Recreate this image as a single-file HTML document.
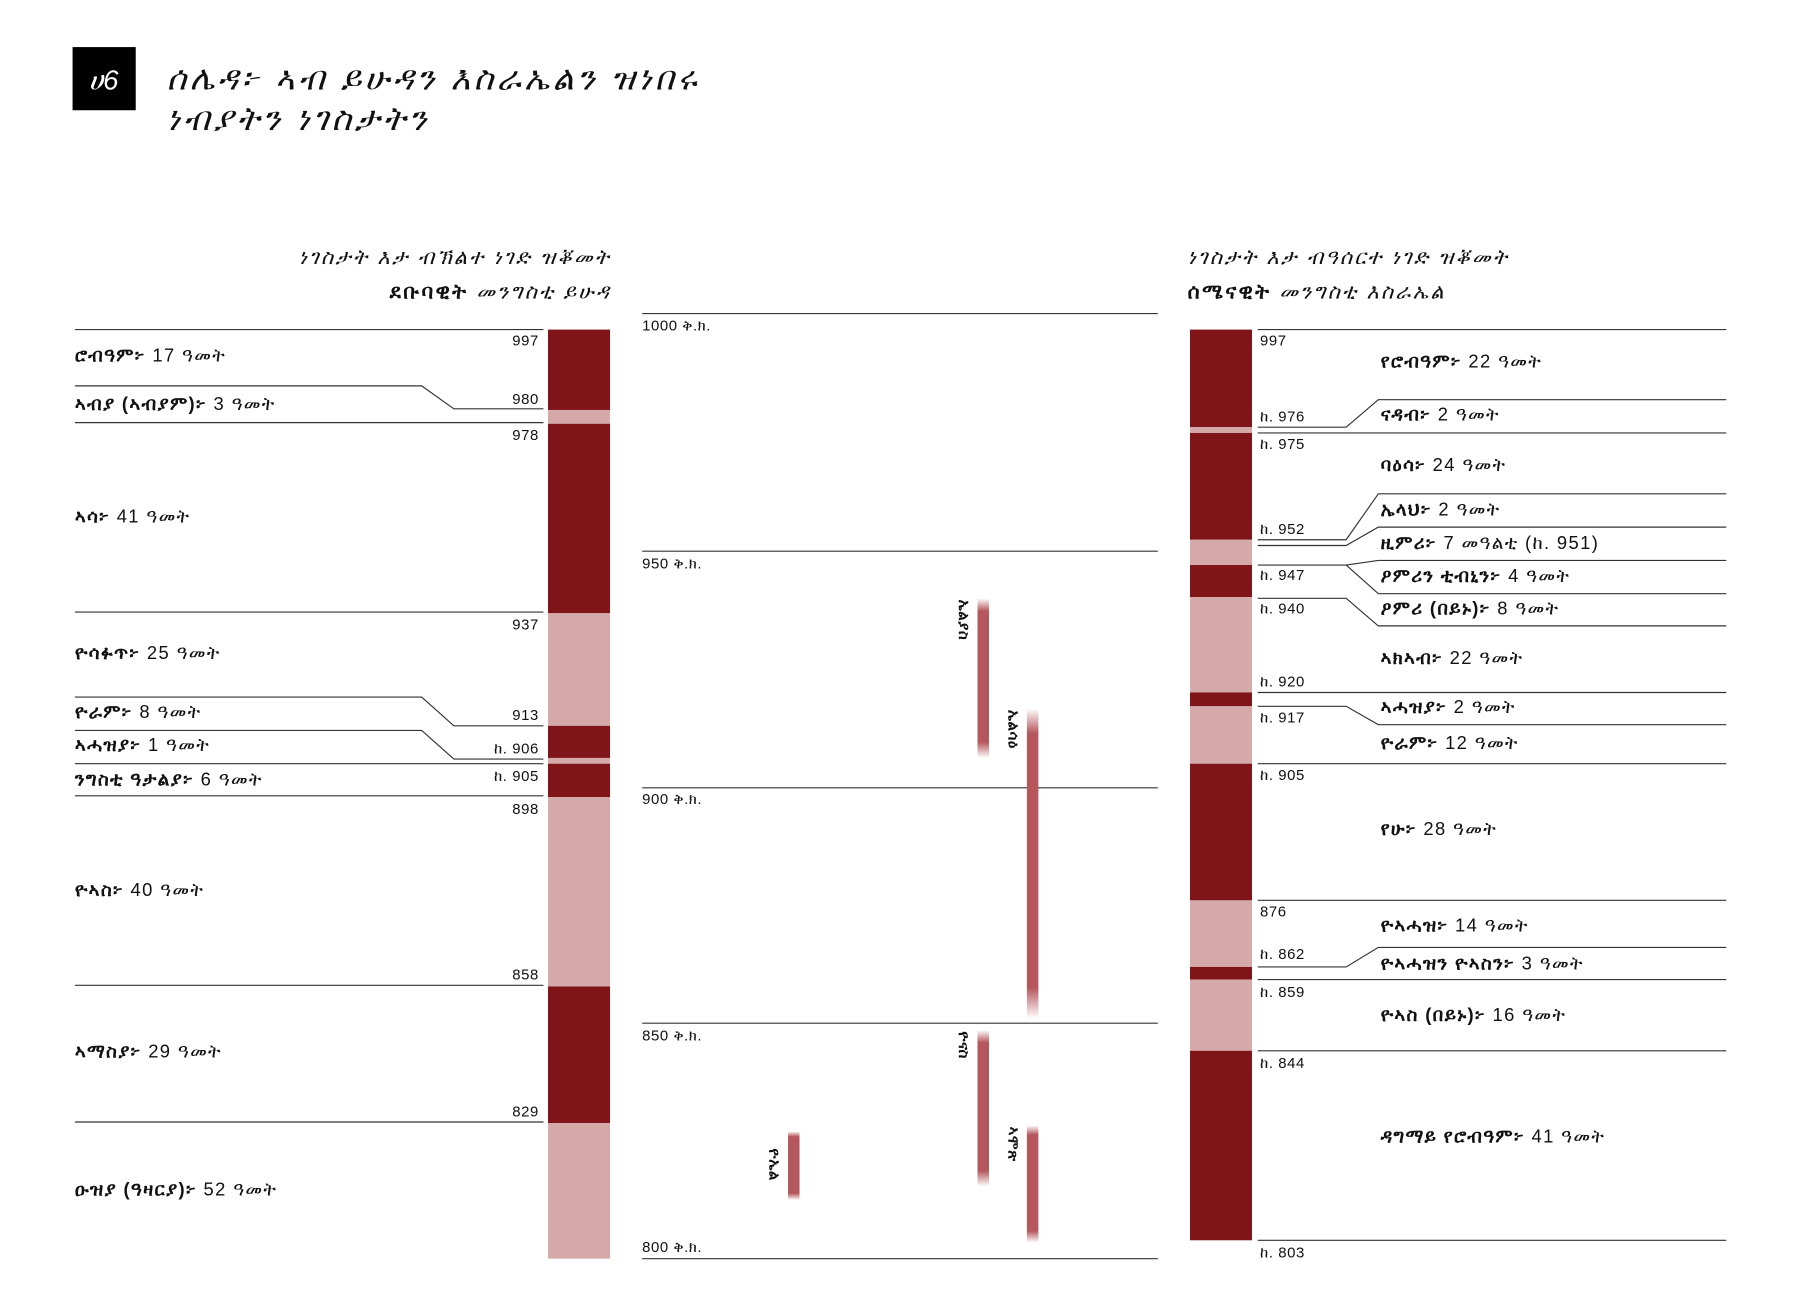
<!DOCTYPE html>
<html><head><meta charset="utf-8"><style>
html,body{margin:0;padding:0;background:#fff;width:1800px;height:1300px;overflow:hidden}
svg{display:block}
text{font-family:"Liberation Sans","DejaVu Sans",sans-serif;fill:#111}
.l{font-size:16px;letter-spacing:1.2px}.y{font-size:13px;letter-spacing:0.5px}.h{font-size:18px;letter-spacing:2px}.c{font-size:13px;letter-spacing:0.5px}
</style></head><body>
<svg width="1800" height="1300" viewBox="0 0 1567 1132" xmlns="http://www.w3.org/2000/svg">
<defs>
<linearGradient id="g" x1="0" y1="0" x2="0" y2="1">
<stop offset="0" stop-color="#b5575c" stop-opacity="0"/>
<stop offset="0.08" stop-color="#b5575c"/>
<stop offset="0.9" stop-color="#b5575c"/>
<stop offset="1" stop-color="#b5575c" stop-opacity="0"/>
</linearGradient>
</defs>
<rect x="63" y="41" width="55" height="55" fill="#000"/>
<text x="90" y="78" text-anchor="middle" style="font-size:24px;fill:#fff;font-style:italic">ሀ6</text>
<text x="145" y="78" style="font-size:29px;font-style:italic;letter-spacing:3px">ሰሌዳ፦ ኣብ ይሁዳን እስራኤልን ዝነበሩ</text>
<text x="145" y="113" style="font-size:29px;font-style:italic;letter-spacing:3px">ነብያትን ነገስታትን</text>

<text x="532" y="230" text-anchor="end" class="h" font-style="italic">ነገስታት እታ ብኽልተ ነገድ ዝቖመት</text>
<text x="532" y="260" text-anchor="end" class="h"><tspan font-weight="bold">ደቡባዊት</tspan> <tspan font-style="italic">መንግስቲ ይሁዳ</tspan></text>
<text x="1034" y="230" class="h" font-style="italic">ነገስታት እታ ብዓሰርተ ነገድ ዝቖመት</text>
<text x="1034" y="260" class="h"><tspan font-weight="bold">ሰሜናዊት</tspan> <tspan font-style="italic">መንግስቲ እስራኤል</tspan></text>

<g>
<rect x="477" y="287" width="54" height="70" fill="#7f1518"/>
<rect x="477" y="357" width="54" height="12" fill="#d4a9a8"/>
<rect x="477" y="369" width="54" height="165" fill="#7f1518"/>
<rect x="477" y="534" width="54" height="98" fill="#d4a9a8"/>
<rect x="477" y="632" width="54" height="28" fill="#7f1518"/>
<rect x="477" y="660" width="54" height="5" fill="#d4a9a8"/>
<rect x="477" y="665" width="54" height="29" fill="#7f1518"/>
<rect x="477" y="694" width="54" height="165" fill="#d4a9a8"/>
<rect x="477" y="859" width="54" height="119" fill="#7f1518"/>
<rect x="477" y="978" width="54" height="118" fill="#d4a9a8"/>
</g>
<g stroke="#333" stroke-width="1" fill="none">
<path d="M65 287H473M65 368H473M65 533H473M65 693H473M65 858H473M65 977H473M65 665H473"/>
<path d="M65 336H367L395 356H473M65 607H367L395 632H473M65 636H367L395 661H473"/>
</g>
<g class="l">
<text x="65" y="315"><tspan font-weight="bold">ሮብዓም፦</tspan> 17 ዓመት</text>
<text x="65" y="357"><tspan font-weight="bold">ኣብያ (ኣብያም)፦</tspan> 3 ዓመት</text>
<text x="65" y="455"><tspan font-weight="bold">ኣሳ፦</tspan> 41 ዓመት</text>
<text x="65" y="574"><tspan font-weight="bold">ዮሳፉጥ፦</tspan> 25 ዓመት</text>
<text x="65" y="625"><tspan font-weight="bold">ዮራም፦</tspan> 8 ዓመት</text>
<text x="65" y="654"><tspan font-weight="bold">ኣሓዝያ፦</tspan> 1 ዓመት</text>
<text x="65" y="684"><tspan font-weight="bold">ንግስቲ ዓታልያ፦</tspan> 6 ዓመት</text>
<text x="65" y="780"><tspan font-weight="bold">ዮኣስ፦</tspan> 40 ዓመት</text>
<text x="65" y="921"><tspan font-weight="bold">ኣማስያ፦</tspan> 29 ዓመት</text>
<text x="65" y="1041"><tspan font-weight="bold">ዑዝያ (ዓዛርያ)፦</tspan> 52 ዓመት</text>
</g>
<g class="y" text-anchor="end">
<text x="469" y="301">997</text><text x="469" y="352">980</text><text x="469" y="383">978</text>
<text x="469" y="548">937</text><text x="469" y="627">913</text><text x="469" y="656">ከ. 906</text>
<text x="469" y="680">ከ. 905</text><text x="469" y="709">898</text><text x="469" y="853">858</text><text x="469" y="972">829</text>
</g>

<g stroke="#333" stroke-width="1"><path d="M559 273H1008M559 480H1008M559 686H1008M559 891H1008M559 1096H1008"/></g>
<g class="c">
<text x="559" y="288">1000 ቅ.ክ.</text><text x="559" y="495">950 ቅ.ክ.</text>
<text x="559" y="700">900 ቅ.ክ.</text><text x="559" y="906">850 ቅ.ክ.</text><text x="559" y="1090">800 ቅ.ክ.</text>
</g>
<rect x="851" y="521" width="10" height="139" fill="url(#g)"/>
<rect x="894" y="617" width="10" height="270" fill="url(#g)"/>
<rect x="851" y="897" width="10" height="136" fill="url(#g)"/>
<rect x="894" y="980" width="10" height="102" fill="url(#g)"/>
<rect x="686" y="985" width="10" height="60" fill="url(#g)"/>
<g class="y" font-weight="bold">
<text transform="translate(835,522) rotate(90)">ኤልያስ</text>
<text transform="translate(878,618) rotate(90)">ኤልሳዕ</text>
<text transform="translate(835,898) rotate(90)">ዮናስ</text>
<text transform="translate(878,981) rotate(90)">ኣሞጽ</text>
<text transform="translate(670,1000) rotate(90)">ዮኤል</text>
</g>

<g>
<rect x="1036" y="287" width="54" height="85" fill="#7f1518"/>
<rect x="1036" y="372" width="54" height="5" fill="#d4a9a8"/>
<rect x="1036" y="377" width="54" height="93" fill="#7f1518"/>
<rect x="1036" y="470" width="54" height="22" fill="#d4a9a8"/>
<rect x="1036" y="492" width="54" height="28" fill="#7f1518"/>
<rect x="1036" y="520" width="54" height="83" fill="#d4a9a8"/>
<rect x="1036" y="603" width="54" height="12" fill="#7f1518"/>
<rect x="1036" y="615" width="54" height="50" fill="#d4a9a8"/>
<rect x="1036" y="665" width="54" height="119" fill="#7f1518"/>
<rect x="1036" y="784" width="54" height="58" fill="#d4a9a8"/>
<rect x="1036" y="842" width="54" height="11" fill="#7f1518"/>
<rect x="1036" y="853" width="54" height="62" fill="#d4a9a8"/>
<rect x="1036" y="915" width="54" height="165" fill="#7f1518"/>
</g>
<g stroke="#333" stroke-width="1" fill="none">
<path d="M1095 287H1503M1095 377H1503M1095 603H1503M1095 665H1503M1095 784H1503M1095 853H1503M1095 915H1503M1095 1080H1503"/>
<path d="M1503 348H1200L1172 372H1095M1503 430H1200L1172 470H1095M1503 459H1200L1172 475H1095M1503 488H1200L1172 492H1095M1503 517H1200L1172 492M1503 545H1200L1172 521H1095M1503 631H1200L1172 615H1095M1503 825H1200L1172 842H1095"/>
</g>
<g class="y">
<text x="1097" y="301">997</text><text x="1097" y="367">ከ. 976</text><text x="1097" y="391">ከ. 975</text>
<text x="1097" y="465">ከ. 952</text><text x="1097" y="505">ከ. 947</text><text x="1097" y="534">ከ. 940</text>
<text x="1097" y="598">ከ. 920</text><text x="1097" y="629">ከ. 917</text><text x="1097" y="679">ከ. 905</text>
<text x="1097" y="798">876</text><text x="1097" y="835">ከ. 862</text><text x="1097" y="868">ከ. 859</text>
<text x="1097" y="930">ከ. 844</text><text x="1097" y="1095">ከ. 803</text>
</g>
<g class="l">
<text x="1202" y="320"><tspan font-weight="bold">የሮብዓም፦</tspan> 22 ዓመት</text>
<text x="1202" y="366"><tspan font-weight="bold">ናዳብ፦</tspan> 2 ዓመት</text>
<text x="1202" y="410"><tspan font-weight="bold">ባዕሳ፦</tspan> 24 ዓመት</text>
<text x="1202" y="449"><tspan font-weight="bold">ኤላህ፦</tspan> 2 ዓመት</text>
<text x="1202" y="478"><tspan font-weight="bold">ዚምሪ፦</tspan> 7 መዓልቲ (ከ. 951)</text>
<text x="1202" y="507"><tspan font-weight="bold">ዖምሪን ቲብኒን፦</tspan> 4 ዓመት</text>
<text x="1202" y="535"><tspan font-weight="bold">ዖምሪ (በይኑ)፦</tspan> 8 ዓመት</text>
<text x="1202" y="578"><tspan font-weight="bold">ኣክኣብ፦</tspan> 22 ዓመት</text>
<text x="1202" y="621"><tspan font-weight="bold">ኣሓዝያ፦</tspan> 2 ዓመት</text>
<text x="1202" y="652"><tspan font-weight="bold">ዮራም፦</tspan> 12 ዓመት</text>
<text x="1202" y="727"><tspan font-weight="bold">የሁ፦</tspan> 28 ዓመት</text>
<text x="1202" y="811"><tspan font-weight="bold">ዮኣሓዝ፦</tspan> 14 ዓመት</text>
<text x="1202" y="844"><tspan font-weight="bold">ዮኣሓዝን ዮኣስን፦</tspan> 3 ዓመት</text>
<text x="1202" y="889"><tspan font-weight="bold">ዮኣስ (በይኑ)፦</tspan> 16 ዓመት</text>
<text x="1202" y="995"><tspan font-weight="bold">ዳግማይ የሮብዓም፦</tspan> 41 ዓመት</text>
</g>
</svg>
</body></html>
